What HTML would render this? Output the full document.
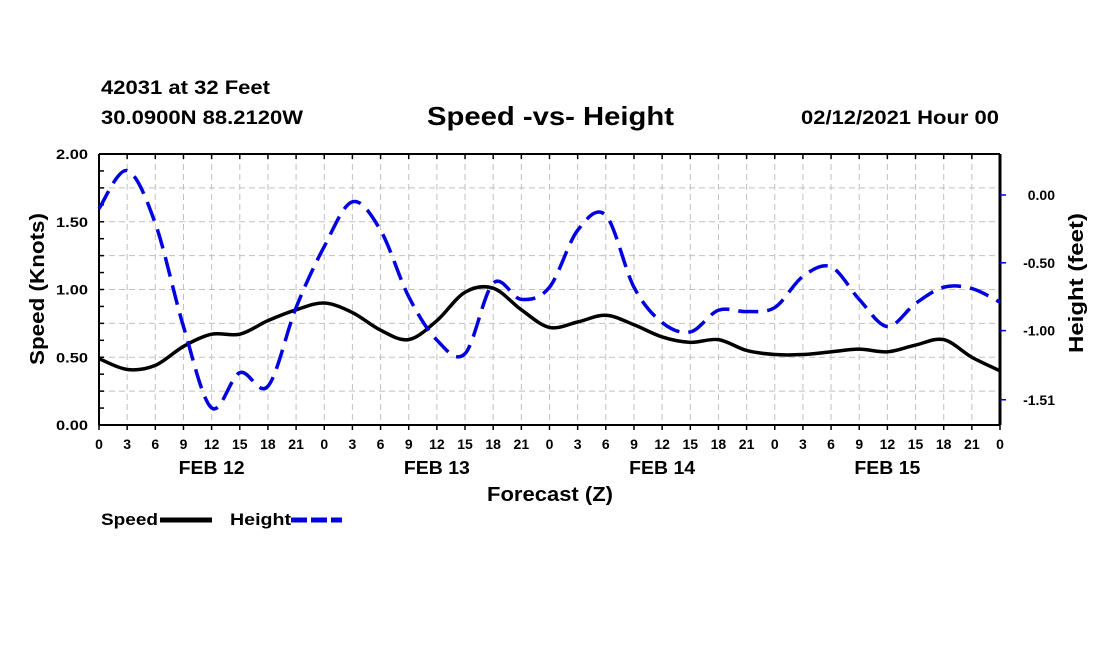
<!DOCTYPE html>
<html><head><meta charset="utf-8"><style>
body{margin:0;background:#fff;}
svg text{font-family:"Liberation Sans",sans-serif;font-weight:bold;}
</style></head><body>
<svg id="c" width="1100" height="650" xmlns="http://www.w3.org/2000/svg">
<text x="101" y="94" font-size="19" textLength="169" lengthAdjust="spacingAndGlyphs">42031 at 32 Feet</text>
<text x="101" y="124" font-size="19" textLength="202" lengthAdjust="spacingAndGlyphs">30.0900N 88.2120W</text>
<text x="427" y="125" font-size="26" textLength="247" lengthAdjust="spacingAndGlyphs">Speed -vs- Height</text>
<text x="801" y="124" font-size="19" textLength="198" lengthAdjust="spacingAndGlyphs">02/12/2021 Hour 00</text>
<g id="grid"></g>
<g id="axes"></g>
<g id="series"></g>
<text x="487" y="501" font-size="20" textLength="126" lengthAdjust="spacingAndGlyphs">Forecast (Z)</text>
<text transform="translate(44,365) rotate(-90)" font-size="20" textLength="152" lengthAdjust="spacingAndGlyphs">Speed (Knots)</text>
<text transform="translate(1083,353) rotate(-90)" font-size="20" textLength="140" lengthAdjust="spacingAndGlyphs">Height (feet)</text>
<g>
<text x="101" y="525" font-size="17" textLength="57" lengthAdjust="spacingAndGlyphs">Speed</text>
<line x1="160" y1="520" x2="212" y2="520" stroke="#000" stroke-width="5"/>
<text x="230" y="525" font-size="17" textLength="61" lengthAdjust="spacingAndGlyphs">Height</text>
<line x1="291" y1="520" x2="342" y2="520" stroke="#0000e0" stroke-width="5" stroke-dasharray="16,4"/>
</g>
</svg>
<script>
const hours=[0,3,6,9,12,15,18,21,24,27,30,33,36,39,42,45,48,51,54,57,60,63,66,69,72,75,78,81,84,87,90,93,96];
const speed=[0.49,0.41,0.44,0.58,0.67,0.67,0.77,0.85,0.90,0.83,0.70,0.63,0.77,0.98,1.01,0.85,0.72,0.76,0.81,0.74,0.65,0.61,0.63,0.55,0.52,0.52,0.54,0.56,0.54,0.59,0.63,0.50,0.40];
const height=[-0.10,0.18,-0.21,-0.97,-1.57,-1.31,-1.41,-0.83,-0.38,-0.05,-0.26,-0.75,-1.07,-1.17,-0.65,-0.77,-0.68,-0.26,-0.15,-0.68,-0.94,-1.01,-0.85,-0.86,-0.83,-0.60,-0.53,-0.77,-0.97,-0.80,-0.68,-0.69,-0.79];
const leftTicks=[0,0.5,1.0,1.5,2.0];
const leftTickLabels=["0.00","0.50","1.00","1.50","2.00"];
const rightTicks=[0,-0.5,-1.0,-1.51];
const rightTickLabels=["0.00","-0.50","-1.00","-1.51"];
const xTickLabels=["0","3","6","9","12","15","18","21"];
const dayLabels=["FEB 12","FEB 13","FEB 14","FEB 15"];

const NS="http://www.w3.org/2000/svg";
const X0=99,X1=1000,YT=154,YB=425;
const xs=h=>X0+(X1-X0)*h/96;
const ys=v=>YB-(YB-YT)*v/2;
const yh=v=>195-135.6*v;
function mk(tag,attrs,parent){const e=document.createElementNS(NS,tag);for(const k in attrs)e.setAttribute(k,attrs[k]);parent.appendChild(e);return e;}
const grid=document.getElementById('grid'),axes=document.getElementById('axes'),series=document.getElementById('series');
for(let h=3;h<96;h+=3){const l=mk('line',{x1:xs(h),x2:xs(h),y1:YT,y2:YB,stroke:'#c0c0c0','stroke-dasharray':'6,4'},grid);

}
for(let v=0.25;v<2;v+=0.25){const l=mk('line',{x1:X0,x2:X1,y1:ys(v),y2:ys(v),stroke:'#c0c0c0','stroke-dasharray':'6,4'},grid);

}
mk('line',{x1:X0,x2:X1,y1:YT,y2:YT,stroke:'#000','stroke-width':2},axes);
mk('line',{x1:X0,x2:X1,y1:YB,y2:YB,stroke:'#000','stroke-width':2},axes);
mk('line',{x1:X0,x2:X0,y1:YT,y2:YB,stroke:'#000','stroke-width':2},axes);
mk('line',{x1:X1,x2:X1,y1:YT,y2:YB,stroke:'#000','stroke-width':3},axes);
for(let h=0;h<=96;h+=3){
 mk('line',{x1:xs(h),x2:xs(h),y1:YB,y2:YB+5,stroke:'#000','stroke-width':1.5},axes);
 mk('line',{x1:xs(h),x2:xs(h),y1:YT,y2:YT+5,stroke:'#000','stroke-width':1.5},axes);
 const t=mk('text',{x:xs(h),y:449,'font-size':14,'text-anchor':'middle'},axes);
 t.textContent=xTickLabels[(h/3)%8];
 
 
}
dayLabels.forEach((d,i)=>{const t=mk('text',{x:xs(i*24+12)-33,y:474,'font-size':18,textLength:66,lengthAdjust:'spacingAndGlyphs'},axes);t.textContent=d;

});
for(let v=0;v<=2.0001;v+=0.125){mk('line',{x1:X0,x2:X0+5,y1:ys(v),y2:ys(v),stroke:'#000','stroke-width':1.5},axes);}
leftTicks.forEach((v,i)=>{const t=mk('text',{x:88,y:ys(v)+5,'font-size':14,'text-anchor':'end',textLength:32,lengthAdjust:'spacingAndGlyphs'},axes);t.textContent=leftTickLabels[i];

});
rightTicks.forEach((v,i)=>{mk('line',{x1:X1,x2:X1+6,y1:yh(v),y2:yh(v),stroke:'#0000e0','stroke-width':1.5},axes);
const t=mk('text',{x:1055,y:yh(v)+5,'font-size':14,'text-anchor':'end'},axes);t.textContent=rightTickLabels[i];

});
function smooth(pts){let d=`M${pts[0][0]},${pts[0][1]}`;
for(let i=0;i<pts.length-1;i++){const p0=pts[i-1]||pts[i],p1=pts[i],p2=pts[i+1],p3=pts[i+2]||p2;
d+=` C${p1[0]+(p2[0]-p0[0])/6},${p1[1]+(p2[1]-p0[1])/6} ${p2[0]-(p3[0]-p1[0])/6},${p2[1]-(p3[1]-p1[1])/6} ${p2[0]},${p2[1]}`;}return d;}
const sp=mk('path',{d:smooth(hours.map((h,i)=>[xs(h),ys(speed[i])])),fill:'none',stroke:'#000','stroke-width':3.5},series);


const hp=mk('path',{d:smooth(hours.map((h,i)=>[xs(h),yh(height[i])])),fill:'none',stroke:'#0000e0','stroke-width':3.5,'stroke-dasharray':'20,9'},series);


</script>
</body></html>
